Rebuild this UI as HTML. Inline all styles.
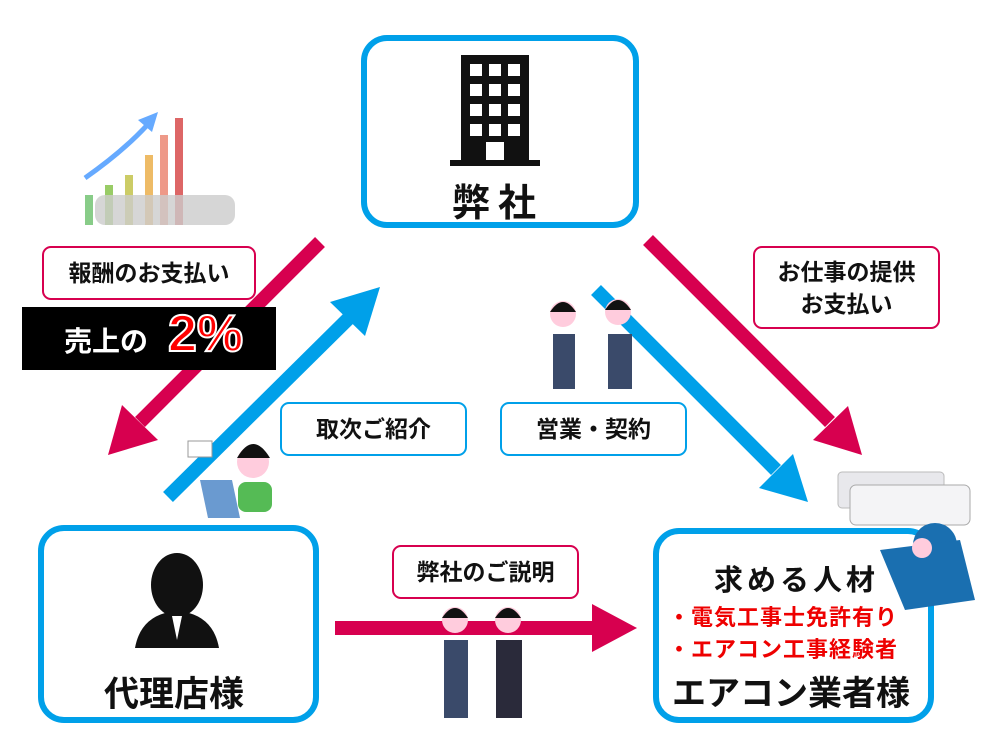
<!DOCTYPE html>
<html><head><meta charset="utf-8"><style>
body{margin:0;width:1000px;height:750px;background:#fff;position:relative;overflow:hidden;font-family:"Liberation Sans","Noto Sans CJK JP",sans-serif;font-weight:bold}
.box{position:absolute;border:6px solid #00a0e9;border-radius:26px;box-sizing:border-box;background:transparent}
.lb{position:absolute;box-sizing:border-box;border:2px solid;border-radius:9px;background:#fff;display:flex;align-items:center;justify-content:center;text-align:center;font-size:23px;line-height:32px;color:#111}
.t{position:absolute;white-space:nowrap;color:#111}
</style></head><body>
<div class="box" style="left:361px;top:35px;width:278px;height:193px"></div>
<div class="box" style="left:38px;top:525px;width:281px;height:198px"></div>
<div class="box" style="left:653px;top:528px;width:281px;height:195px"></div>
<svg width="1000" height="750" style="position:absolute;left:0;top:0">
<g stroke-width="14">
<line x1="320" y1="242" x2="140" y2="422" stroke="#d7004f"/>
<polygon points="108,455 122,405 158,440" fill="#d7004f"/>
<line x1="168" y1="497" x2="350" y2="317" stroke="#00a0e9"/>
<polygon points="380,287 365,336 330,302" fill="#00a0e9"/>
<line x1="648" y1="240" x2="830" y2="422" stroke="#d7004f"/>
<polygon points="862,455 813,440 848,406" fill="#d7004f"/>
<line x1="596" y1="290" x2="776" y2="470" stroke="#00a0e9"/>
<polygon points="808,502 759,488 793,454" fill="#00a0e9"/>
<line x1="335" y1="628" x2="598" y2="628" stroke="#d7004f"/>
<polygon points="637,628 592,604 592,652" fill="#d7004f"/>
</g>
<g>
<rect x="85" y="195" width="8" height="30" fill="#8c8"/>
<rect x="105" y="185" width="8" height="40" fill="#9c6"/>
<rect x="125" y="175" width="8" height="50" fill="#cc6"/>
<rect x="145" y="155" width="8" height="70" fill="#eb6"/>
<rect x="160" y="135" width="8" height="90" fill="#e98"/>
<rect x="175" y="118" width="8" height="107" fill="#d66"/>
<path d="M85 178 Q125 150 150 122" stroke="#6af" stroke-width="5" fill="none"/>
<polygon points="158,112 138,120 152,132" fill="#6af"/>
<rect x="95" y="195" width="140" height="30" rx="10" fill="#ccc" opacity=".8"/>
</g>
<g fill="#111">
<rect x="461" y="55" width="68" height="108"/>
<rect x="450" y="160" width="90" height="6"/>
</g>
<g fill="#fff">
<rect x="470" y="64" width="12" height="12"/><rect x="489" y="64" width="12" height="12"/><rect x="508" y="64" width="12" height="12"/>
<rect x="470" y="84" width="12" height="12"/><rect x="489" y="84" width="12" height="12"/><rect x="508" y="84" width="12" height="12"/>
<rect x="470" y="104" width="12" height="12"/><rect x="489" y="104" width="12" height="12"/><rect x="508" y="104" width="12" height="12"/>
<rect x="470" y="124" width="12" height="12"/><rect x="489" y="124" width="12" height="12"/><rect x="508" y="124" width="12" height="12"/>
<rect x="486" y="142" width="18" height="18"/>
</g>
<g fill="#111">
<ellipse cx="177" cy="585" rx="26" ry="32"/>
<path d="M135 648 Q140 620 165 613 L189 613 Q214 620 219 648 Z"/>
</g>
<path d="M172 616 L177 640 L182 616 Z" fill="#fff"/>
<g>
<circle cx="563" cy="314" r="13" fill="#fcd"/><path d="M550 312 Q563 292 576 312 Z" fill="#111"/><rect x="553" y="334" width="22" height="55" fill="#3a4a6a"/>
<circle cx="618" cy="312" r="13" fill="#fcd"/><path d="M605 310 Q618 290 631 310 Z" fill="#111"/><rect x="608" y="334" width="24" height="55" fill="#3a4a6a"/>
</g>
<g>
<circle cx="253" cy="462" r="16" fill="#fcd"/><path d="M237 458 Q253 430 270 458 Z" fill="#111"/>
<rect x="238" y="482" width="34" height="30" rx="8" fill="#5b5"/>
<polygon points="200,480 232,480 240,518 208,518" fill="#6a9ad0"/>
<rect x="188" y="441" width="24" height="16" fill="#fff" stroke="#999"/>
</g>
<g>
<circle cx="455" cy="620" r="13" fill="#fcd"/><path d="M442 618 Q455 598 468 618 Z" fill="#111"/><rect x="444" y="640" width="24" height="78" fill="#3a4a6a"/>
<circle cx="508" cy="620" r="13" fill="#fcd"/><path d="M495 618 Q508 598 521 618 Z" fill="#111"/><rect x="496" y="640" width="26" height="78" fill="#2a2a3a"/>
</g>
<g>
<rect x="838" y="472" width="106" height="36" rx="4" fill="#e8e8ec" stroke="#bbb"/>
<rect x="850" y="485" width="120" height="40" rx="6" fill="#f4f4f6" stroke="#aaa"/>
<circle cx="935" cy="545" r="22" fill="#1a6fb0"/>
<path d="M880 550 L960 540 L975 600 L905 610 Z" fill="#1a6fb0"/>
<circle cx="922" cy="548" r="10" fill="#fcd"/>
</g>
</svg>
<div class="t" style="left:452px;top:172px;font-size:38px;letter-spacing:8px">弊社</div>
<div class="t" style="left:104px;top:666px;font-size:35px">代理店様</div>
<div class="t" style="left:714px;top:557px;font-size:29px;letter-spacing:4px">求める人材</div>
<div class="t" style="left:668px;top:600px;font-size:22px;letter-spacing:1px;color:#e00">・電気工事士免許有り</div>
<div class="t" style="left:668px;top:632px;font-size:22px;letter-spacing:1px;color:#e00">・エアコン工事経験者</div>
<div class="t" style="left:672px;top:666px;font-size:34px">エアコン業者様</div>
<div class="lb" style="left:42px;top:246px;width:214px;height:54px;border-color:#d7004f">報酬のお支払い</div>
<div style="position:absolute;left:22px;top:307px;width:254px;height:63px;background:#000"></div>
<div class="t" style="left:64px;top:320px;font-size:28px;color:#fff">売上の</div>
<div class="t" style="left:168px;top:304px;font-size:52px;color:#f00;-webkit-text-stroke:2px #fff;font-family:'Liberation Sans',sans-serif">2%</div>
<div class="lb" style="left:280px;top:402px;width:187px;height:54px;border-color:#00a0e9">取次ご紹介</div>
<div class="lb" style="left:500px;top:402px;width:187px;height:54px;border-color:#00a0e9">営業・契約</div>
<div class="lb" style="left:753px;top:246px;width:187px;height:83px;border-color:#d7004f">お仕事の提供<br>お支払い</div>
<div class="lb" style="left:392px;top:545px;width:187px;height:54px;border-color:#d7004f">弊社のご説明</div>
</body></html>
